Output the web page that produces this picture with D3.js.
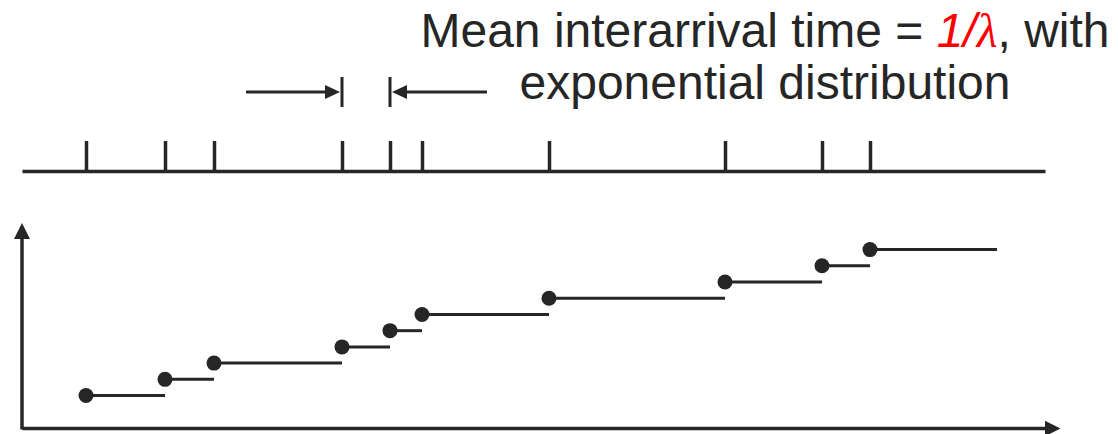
<!DOCTYPE html>
<html>
<head>
<meta charset="utf-8">
<script src="https://cdn.jsdelivr.net/npm/d3@7"></script>
<style>
  body { margin: 0; background: #fff; }
  svg { display: block; font-family: "Liberation Sans", Arial, sans-serif; }
</style>
</head>
<body>
<svg id="chart"></svg>
<script>
// arrival times (time units) and the counts reached at each arrival
const arrivalTimes = [0.64, 1.43, 1.92, 3.20, 3.68, 4.00, 5.27, 7.03, 8.00, 8.48];
const counts = [1, 2, 3, 4, 5, 6, 7, 8, 9, 10];
const endTime = 9.75;
const timeDomain = [0, 10.23];
const countDomain = [-1, 11.7];
const titleLines = ["Mean interarrival time = ", "exponential distribution"];

const width = 1118, height = 434;
const ink = "#262626";

const svg = d3.select("#chart").attr("width", width).attr("height", height);

const x = d3.scaleLinear().domain(timeDomain).range([22, 1045]);
const y = d3.scaleLinear().domain(countDomain).range([428, 222]);

// timeline with arrival ticks
svg.append("g")
  .attr("transform", "translate(0,171)")
  .call(d3.axisTop(x).tickValues(arrivalTimes).tickSize(30).tickSizeOuter(0).tickFormat(""))
  .call(g => g.selectAll("path, line").attr("stroke", ink).attr("stroke-width", 3.5));

// interarrival marker between 4th and 5th arrival
const a = x(arrivalTimes[3]), b = x(arrivalTimes[4]);
const my = 92;
const marks = svg.append("g").attr("fill", ink).attr("stroke", ink);
marks.append("line").attr("x1", a).attr("x2", a).attr("y1", my - 15).attr("y2", my + 15).attr("stroke-width", 3);
marks.append("line").attr("x1", b).attr("x2", b).attr("y1", my - 15).attr("y2", my + 15).attr("stroke-width", 3);
marks.append("line").attr("x1", a - 96).attr("x2", a - 14).attr("y1", my).attr("y2", my).attr("stroke-width", 3);
marks.append("path").attr("stroke", "none").attr("d", `M${a - 2},${my} L${a - 17},${my - 7} L${a - 17},${my + 7}Z`);
marks.append("line").attr("x1", b + 14).attr("x2", b + 97).attr("y1", my).attr("y2", my).attr("stroke-width", 3);
marks.append("path").attr("stroke", "none").attr("d", `M${b + 2},${my} L${b + 17},${my - 7} L${b + 17},${my + 7}Z`);

// title text
const t1 = svg.append("text").attr("x", 765).attr("y", 47).attr("text-anchor", "middle")
  .style("font-size", "48px").attr("fill", ink);
t1.append("tspan").text(titleLines[0]);
t1.append("tspan").attr("fill", "#ff0000").style("font-style", "italic").text("1/");
t1.append("tspan").attr("fill", "#ff0000").style("font-style", "italic")
  .style("font-family", "'Liberation Serif', serif").text("λ");
t1.append("tspan").text(", with");
svg.append("text").attr("x", 765).attr("y", 99).attr("text-anchor", "middle")
  .style("font-size", "48px").attr("fill", ink).text(titleLines[1]);

// counting process axes
const defs = svg.append("defs");
defs.append("marker").attr("id", "arrow").attr("viewBox", "0 0 16 16")
  .attr("refX", 1).attr("refY", 8).attr("markerWidth", 16).attr("markerHeight", 16)
  .attr("markerUnits", "userSpaceOnUse").attr("orient", "auto")
  .append("path").attr("d", "M0,0 L16,8 L0,16Z").attr("fill", ink);

svg.append("g")
  .attr("transform", `translate(0,${y(countDomain[0])})`)
  .call(d3.axisBottom(x).tickValues([]).tickSizeOuter(0))
  .select("path").attr("stroke", ink).attr("stroke-width", 3.5)
  .attr("marker-end", "url(#arrow)");

svg.append("g")
  .attr("transform", `translate(${x(timeDomain[0])},0)`)
  .call(d3.axisLeft(y).tickValues([]).tickSizeOuter(0))
  .select("path").attr("stroke", ink).attr("stroke-width", 3.5)
  .attr("d", `M0,${y(countDomain[0]) + 1.5}V${y(countDomain[1]) + 16}`)
  .attr("marker-end", "url(#arrow)");

// steps
const steps = arrivalTimes.map((t, i) => ({
  t0: t, t1: i < arrivalTimes.length - 1 ? arrivalTimes[i + 1] : endTime, n: counts[i]
}));

svg.append("g").selectAll("line").data(steps).join("line")
  .attr("x1", d => x(d.t0)).attr("x2", d => x(d.t1))
  .attr("y1", d => y(d.n)).attr("y2", d => y(d.n))
  .attr("stroke", ink).attr("stroke-width", 3);

svg.append("g").selectAll("circle").data(steps).join("circle")
  .attr("cx", d => x(d.t0)).attr("cy", d => y(d.n)).attr("r", 7.5)
  .attr("fill", ink);
</script>
</body>
</html>
